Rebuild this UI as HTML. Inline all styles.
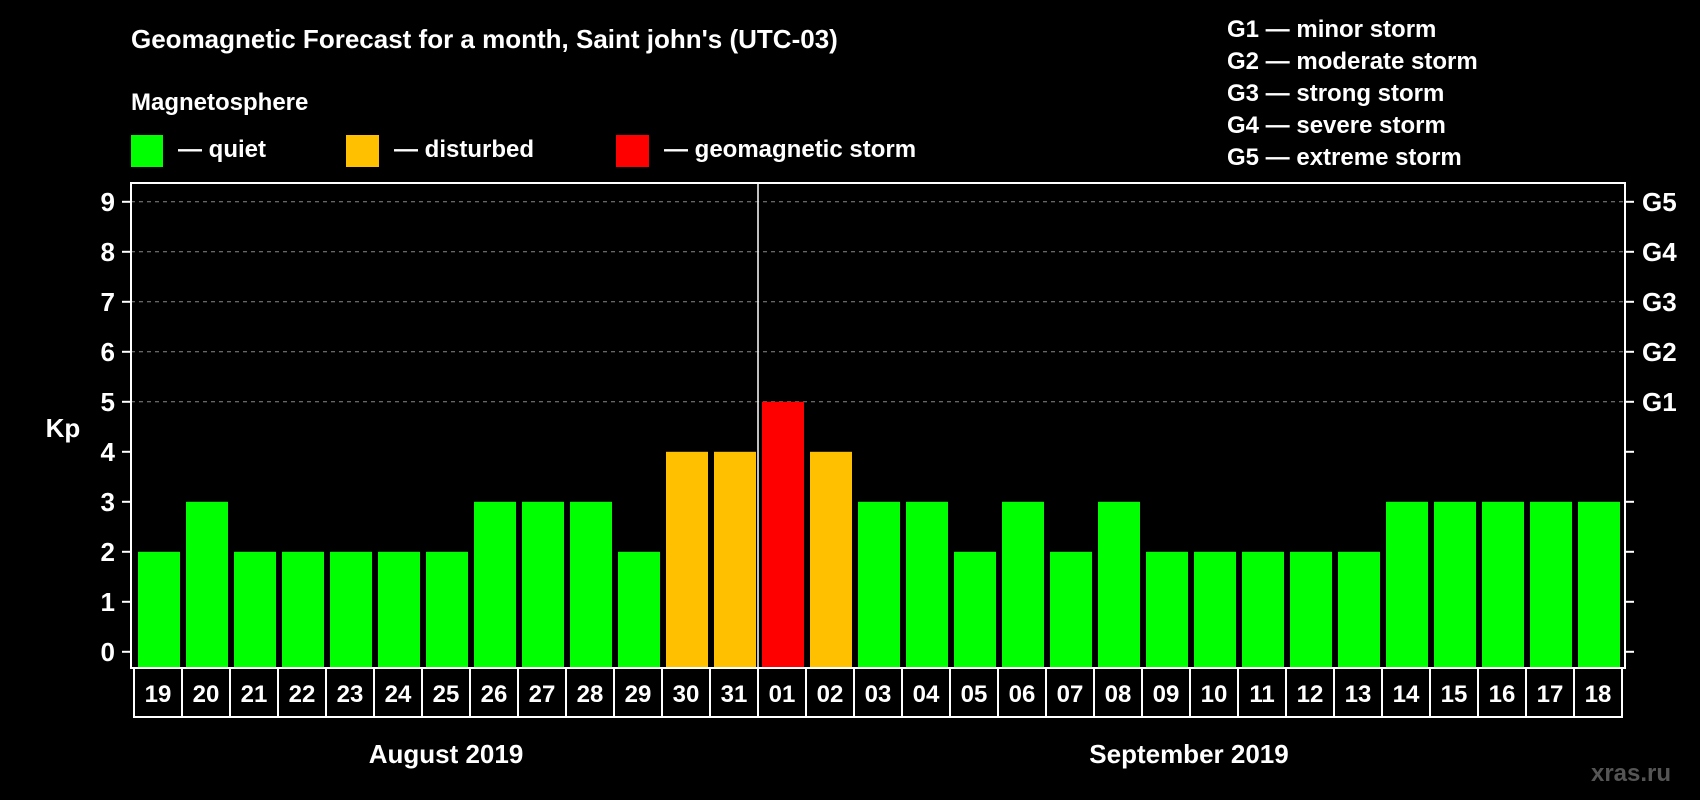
<!DOCTYPE html>
<html><head><meta charset="utf-8"><style>
html,body{margin:0;padding:0;background:#000;}
svg{display:block;font-family:"Liberation Sans",sans-serif;font-weight:bold;}
</style></head><body>
<svg id="chart" width="1700" height="800" viewBox="0 0 1700 800">
<rect x="0" y="0" width="1700" height="800" fill="#000"/>
<text x="131" y="48" fill="#fff" font-size="26">Geomagnetic Forecast for a month, Saint john's (UTC-03)</text>
<text x="131" y="110" fill="#fff" font-size="24">Magnetosphere</text>
<g><rect x="131" y="135" width="32" height="32" fill="#00ff00"/><text x="178" y="157" fill="#fff" font-size="24">— quiet</text></g>
<g><rect x="346" y="135" width="33" height="32" fill="#ffc000"/><text x="394" y="157" fill="#fff" font-size="24">— disturbed</text></g>
<g><rect x="616" y="135" width="33" height="32" fill="#ff0000"/><text x="664" y="157" fill="#fff" font-size="24">— geomagnetic storm</text></g>
<g font-size="24" fill="#fff">
<text x="1227" y="37">G1 — minor storm</text>
<text x="1227" y="69">G2 — moderate storm</text>
<text x="1227" y="101">G3 — strong storm</text>
<text x="1227" y="133">G4 — severe storm</text>
<text x="1227" y="165">G5 — extreme storm</text>
</g>
<text x="63" y="437" fill="#fff" font-size="26" text-anchor="middle">Kp</text>
<g id="grid"></g><g id="bars"></g><g id="axes"></g>
<text x="446" y="763" fill="#fff" font-size="26" text-anchor="middle">August 2019</text>
<text x="1189" y="763" fill="#fff" font-size="26" text-anchor="middle">September 2019</text>
<text x="1631" y="781" fill="#555" font-size="24" text-anchor="middle">xras.ru</text>
</svg>
<script>
const dates=["19","20","21","22","23","24","25","26","27","28","29","30","31","01","02","03","04","05","06","07","08","09","10","11","12","13","14","15","16","17","18"];
const kpValues=[2,3,2,2,2,2,2,3,3,3,2,4,4,5,4,3,3,2,3,2,3,2,2,2,2,2,3,3,3,3,3];
const yTicks=[0,1,2,3,4,5,6,7,8,9];
const gLabels=["G1","G2","G3","G4","G5"];
const gLevels=[5,6,7,8,9];
const monthBreak=13;
const NS="http://www.w3.org/2000/svg";
const plotL=131,plotR=1625,plotT=183,plotB=668,cellX0=134,cellW=48,y0=651.8,unit=50;
function xs(i){return cellX0+i*cellW;}
function ys(v){return y0-v*unit;}
function mk(tag,attrs,parent,txt){const e=document.createElementNS(NS,tag);for(const k in attrs)e.setAttribute(k,attrs[k]);if(txt!==undefined)e.textContent=txt;parent.appendChild(e);return e;}
const grid=document.getElementById('grid'),bars=document.getElementById('bars'),axes=document.getElementById('axes');
gLevels.forEach((v,i)=>{
 const l=mk('line',{x1:plotL,x2:plotR,y1:ys(v),y2:ys(v),stroke:'#888','stroke-width':1,'stroke-dasharray':'4,4'},grid);
 
 
 const t=mk('text',{x:1642,y:ys(v)+9,fill:'#fff','font-size':26},axes,gLabels[i]);
 
 
});
kpValues.forEach((v,i)=>{
 const c=v>=5?'#ff0000':(v>=4?'#ffc000':'#00ff00');
 const r=mk('rect',{x:xs(i)+4,y:ys(v),width:42,height:plotB-1-ys(v),fill:c},bars);
 
 
});
const fr=mk('rect',{x:plotL,y:plotT,width:plotR-plotL,height:plotB-plotT,fill:'none',stroke:'#fff','stroke-width':2},axes);


const vl=mk('line',{x1:xs(monthBreak),x2:xs(monthBreak),y1:plotT,y2:plotB,stroke:'#fff','stroke-width':1.5},axes);


yTicks.forEach(v=>{
 mk('line',{x1:122,x2:plotL,y1:ys(v),y2:ys(v),stroke:'#fff','stroke-width':2},axes);
 mk('line',{x1:plotR,x2:plotR+9,y1:ys(v),y2:ys(v),stroke:'#fff','stroke-width':2},axes);
 const t=mk('text',{x:115,y:ys(v)+9,fill:'#fff','font-size':26,'text-anchor':'end'},axes,String(v));
 
 
});
dates.forEach((d,i)=>{
 const r=mk('rect',{x:xs(i),y:plotB,width:cellW,height:49,fill:'#000',stroke:'#fff','stroke-width':2},axes);
 
 
 const t=mk('text',{x:xs(i)+cellW/2,y:plotB+34,fill:'#fff','font-size':24,'text-anchor':'middle'},axes,d);
 
 
});
</script>
</body></html>
